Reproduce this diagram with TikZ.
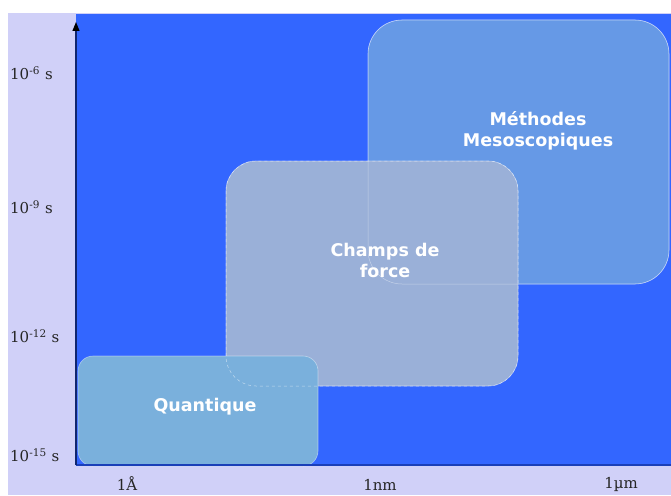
\documentclass[tikz,border=0pt]{standalone}
\usepackage{fontspec}
\newfontfamily\boxfont{DejaVu Sans}
\newfontfamily\axfont{DejaVu Serif}
\usetikzlibrary{arrows.meta}
\definecolor{lav}{HTML}{D0D0F8}
\definecolor{bg}{HTML}{3366FF}
\definecolor{meso}{HTML}{6699E6}
\definecolor{champ}{HTML}{9AB0D8}
\definecolor{quant}{HTML}{7AB0DC}
\definecolor{axblue}{HTML}{1A3FB8}
\tikzset{
  region/.style={draw=white, draw opacity=0.45, line width=0.6pt},
  boxlabel/.style={text=white, font=\boxfont\bfseries\fontsize{17.5}{21}\selectfont, align=center},
  axlabel/.style={text=black!85, font=\axfont\fontsize{15}{17}\selectfont, inner sep=0pt},
}
\begin{document}
\begin{tikzpicture}[x=1pt,y=-1pt]
\useasboundingbox (0,0) rectangle (671,495);
\fill[white] (0,0) rectangle (671,495);
\fill[lav] (8,13) rectangle (671,495);
\fill[bg] (76,14) rectangle (671,465);
% regions
\path[region, fill=meso, rounded corners=34pt] (368,20) rectangle (669,284);
\path[region, fill=champ, rounded corners=30pt] (226,161) rectangle (518,386);
\path[draw=white, draw opacity=0.4, line width=0.5pt, rounded corners=34pt] (368,20) rectangle (669,284);
\path[region, fill=quant, rounded corners=15pt] (78,356) rectangle (318,466);
\path[draw=white, draw opacity=0.55, dashed, line width=0.5pt, rounded corners=30pt] (226,161) rectangle (518,386);
% labels in regions
\node[boxlabel] (meso) at (538,131) {Méthodes\\Mesoscopiques};
\node[boxlabel] (champ) at (385,260) {Champs de\\force};
\node[boxlabel] (quant) at (205,407) {Quantique};
% axes
\coordinate (o) at (76,465);
\coordinate (ytop) at (76,22);
\coordinate (xend) at (671,465);
\draw[axblue, line width=2pt] (o) -- (xend);
\draw[axblue!60!black, line width=1.2pt, -{Triangle[length=9pt,width=7pt,black]}] (o) -- (ytop);
% axis labels
\node[axlabel, anchor=west] (t6) at (10,73) {10\textsuperscript{-6}\,\,s};
\node[axlabel, anchor=west] (t9) at (10,207) {10\textsuperscript{-9}\,\,s};
\node[axlabel, anchor=west] (t12) at (10,336) {10\textsuperscript{-12}\,\,s};
\node[axlabel, anchor=west] (t15) at (10,455) {10\textsuperscript{-15}\,\,s};
\node[axlabel] (a) at (127,483.5) {1Å};
\node[axlabel] (nm) at (380,485) {1nm};
\node[axlabel] (um) at (621,484) {1µm};
\end{tikzpicture}
\end{document}
